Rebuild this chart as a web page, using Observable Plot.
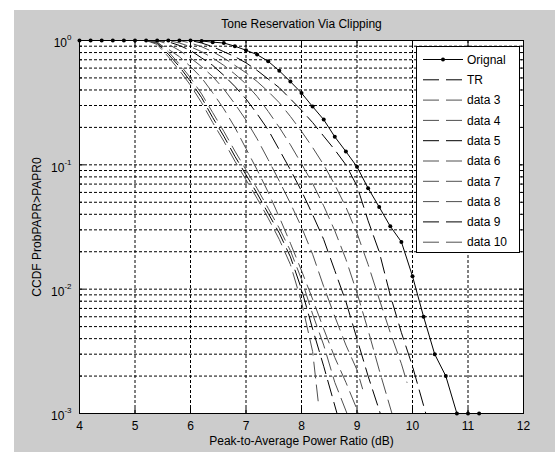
<!DOCTYPE html>
<html><head><meta charset="utf-8">
<script src="https://cdn.jsdelivr.net/npm/d3@7"></script>
<script src="https://cdn.jsdelivr.net/npm/@observablehq/plot@0.6"></script>
<style>
body{margin:0;background:#fff;width:555px;height:452px;overflow:hidden;font-family:"Liberation Sans",Arial,sans-serif;}
#fig{position:absolute;left:14px;top:10px;width:541px;height:442px;background:#cccccc;}
#fig svg.plot{position:absolute;left:0;top:0;}
#legend{position:absolute;left:402px;top:36px;width:104px;height:207px;background:#fff;border:1px solid #000;box-sizing:border-box;}
#legend svg{position:absolute;left:0;top:0;font-size:12px;font-family:"Liberation Sans",Arial,sans-serif;}
</style></head><body><div id="fig"></div>
<script>
// ---- text ----
const titleText = "Tone Reservation Via Clipping";
const xLabelText = "Peak-to-Average Power Ratio (dB)";
const yLabelText = "CCDF ProbPAPR>PAPR0";

// ---- ticks ----
const xTicks = [4, 5, 6, 7, 8, 9, 10, 11, 12];
const xGrid = [5, 6, 7, 8, 9, 10, 11];
const yDecades = [0.001, 0.01, 0.1, 1];
const yExps = ["-3", "-2", "-1", "0"];
const yMinor = [0.002, 0.003, 0.004, 0.005, 0.006, 0.007, 0.008, 0.009,
                0.02, 0.03, 0.04, 0.05, 0.06, 0.07, 0.08, 0.09,
                0.2, 0.3, 0.4, 0.5, 0.6, 0.7, 0.8, 0.9];
const yGrid = [0.002, 0.003, 0.004, 0.005, 0.006, 0.007, 0.008, 0.009, 0.01,
               0.02, 0.03, 0.04, 0.05, 0.06, 0.07, 0.08, 0.09, 0.1,
               0.2, 0.3, 0.4, 0.5, 0.6, 0.7, 0.8, 0.9];

// ---- series ----
const seriesNames = ["Orignal", "TR", "data 3", "data 4", "data 5", "data 6", "data 7", "data 8", "data 9", "data 10"];
const seriesColors = ["#000000", "#000000", "#505050", "#505050", "#000000", "#505050", "#505050", "#505050", "#000000", "#505050"];

const origX = [4.0, 4.2, 4.4, 4.6, 4.8, 5.0, 5.2, 5.4, 5.6, 5.8, 6.0, 6.2, 6.4, 6.6, 6.8, 7.0, 7.2, 7.4, 7.6, 7.8, 8.0, 8.2, 8.4, 8.6, 8.8, 9.0, 9.2, 9.4, 9.6, 9.8, 10.0, 10.2, 10.4, 10.6, 10.8, 11.0, 11.2];
const origP = [1, 1, 1, 1, 1, 1, 1, 1, 1, 1, 1, 0.99, 0.97, 0.955, 0.90, 0.835, 0.77, 0.68, 0.57, 0.467, 0.378, 0.294, 0.231, 0.168, 0.128, 0.0964, 0.0649, 0.0458, 0.032, 0.024, 0.0127, 0.006, 0.003, 0.002, 0.001, 0.001, 0.001];

const trX = [4, 6.0, 6.2, 6.4, 6.6, 6.8, 7.0, 7.2, 7.4, 7.6, 7.8, 8.0, 8.2, 8.4, 8.6, 8.8, 9.0, 9.2, 9.4, 9.6, 9.8, 10.0, 10.24];
const trP = [1, 1, 0.955, 0.891, 0.813, 0.741, 0.661, 0.575, 0.49, 0.417, 0.339, 0.275, 0.219, 0.17, 0.132, 0.1, 0.0676, 0.0355, 0.02, 0.00891, 0.00447, 0.0024, 0.001];

const d3X = [4, 5.8, 6.0, 6.2, 6.4, 6.6, 6.8, 7.0, 7.2, 7.4, 7.6, 7.8, 8.0, 8.2, 8.4, 8.6, 8.8, 9.0, 9.2, 9.4, 9.6, 9.8, 9.9];
const d3P = [1, 1, 0.955, 0.891, 0.813, 0.724, 0.631, 0.55, 0.468, 0.389, 0.316, 0.245, 0.186, 0.138, 0.1, 0.0692, 0.0457, 0.0282, 0.0158, 0.00832, 0.00447, 0.00251, 0.00178];

const d4X = [4, 5.6, 5.8, 6.0, 6.2, 6.4, 6.6, 6.8, 7.0, 7.2, 7.4, 7.6, 7.8, 8.0, 8.2, 8.4, 8.6, 8.8, 9.0, 9.2, 9.4, 9.63];
const d4P = [1, 1, 0.955, 0.891, 0.813, 0.724, 0.631, 0.537, 0.447, 0.355, 0.269, 0.2, 0.145, 0.102, 0.0708, 0.0468, 0.0295, 0.0174, 0.00933, 0.00468, 0.00224, 0.001];

const d5X = [4, 5.4, 5.6, 5.8, 6.0, 6.2, 6.4, 6.6, 6.8, 7.0, 7.2, 7.4, 7.6, 7.8, 8.0, 8.2, 8.4, 8.6, 8.8, 9.0, 9.2, 9.42];
const d5P = [1, 1, 0.977, 0.912, 0.832, 0.724, 0.631, 0.525, 0.427, 0.339, 0.257, 0.191, 0.132, 0.0912, 0.0617, 0.0398, 0.0251, 0.0141, 0.00794, 0.00398, 0.002, 0.001];

const d6X = [4, 5.4, 5.6, 5.8, 6.0, 6.2, 6.4, 6.6, 6.8, 7.0, 7.2, 7.4, 7.6, 7.8, 8.0, 8.2, 8.4, 8.6, 8.8, 9.0, 9.1];
const d6P = [1, 1, 0.933, 0.832, 0.724, 0.617, 0.513, 0.407, 0.309, 0.229, 0.162, 0.11, 0.0741, 0.049, 0.0316, 0.0191, 0.0105, 0.00603, 0.00355, 0.00224, 0.00158];

const d7X = [4, 5.2, 5.4, 5.6, 5.8, 6.0, 6.2, 6.4, 6.6, 6.8, 7.0, 7.2, 7.4, 7.6, 7.8, 8.0, 8.2, 8.4, 8.6, 8.8, 9.03];
const d7P = [1, 1, 0.955, 0.851, 0.741, 0.617, 0.501, 0.38, 0.282, 0.2, 0.135, 0.0912, 0.0603, 0.038, 0.0234, 0.0141, 0.00832, 0.00479, 0.00282, 0.00178, 0.001];

const d8X = [4, 5.2, 5.4, 5.6, 5.8, 6.0, 6.2, 6.4, 6.6, 6.8, 7.0, 7.2, 7.4, 7.6, 7.8, 8.0, 8.2, 8.4, 8.6, 8.82];
const d8P = [1, 1, 0.977, 0.813, 0.646, 0.501, 0.372, 0.263, 0.186, 0.129, 0.0912, 0.0646, 0.0447, 0.0309, 0.0204, 0.012, 0.0063, 0.00355, 0.00178, 0.001];

const d9X = [4, 5.2, 5.4, 5.6, 5.8, 6.0, 6.2, 6.4, 6.6, 6.8, 7.0, 7.2, 7.4, 7.6, 7.8, 8.0, 8.2, 8.4, 8.64];
const d9P = [1, 1, 0.955, 0.776, 0.617, 0.468, 0.347, 0.24, 0.17, 0.117, 0.0832, 0.0589, 0.0407, 0.0282, 0.0182, 0.01, 0.00479, 0.0024, 0.001];

const d10X = [4, 5.2, 5.4, 5.6, 5.8, 6.0, 6.2, 6.4, 6.6, 6.8, 7.0, 7.2, 7.4, 7.6, 7.8, 8.0, 8.2, 8.3];
const d10P = [1, 1, 0.93, 0.74, 0.575, 0.437, 0.316, 0.219, 0.155, 0.107, 0.0759, 0.0537, 0.0372, 0.0251, 0.0158, 0.0079, 0.00316, 0.00126];

const seriesX = [origX, trX, d3X, d4X, d5X, d6X, d7X, d8X, d9X, d10X];
const seriesP = [origP, trP, d3P, d4P, d5P, d6P, d7P, d8P, d9P, d10P];

// ---- build ----
const dashPattern = "16,7";
const gridDash = "3,2";
const tables = seriesX.map((xs, i) => xs.map((x, j) => ({x, p: seriesP[i][j]})));

const lineMarks = [];
for (let i = tables.length - 1; i >= 1; i--) {
  lineMarks.push(Plot.line(tables[i], {x: "x", y: "p", stroke: seriesColors[i], strokeWidth: 1, strokeDasharray: dashPattern}));
}
lineMarks.push(Plot.line(tables[0], {x: "x", y: "p", stroke: seriesColors[0], strokeWidth: 1}));
lineMarks.push(Plot.dot(tables[0], {x: "x", y: "p", r: 2, fill: "#000", stroke: null}));

const expOf = new Map(yDecades.map((v, i) => [v, yExps[i]]));

const chart = Plot.plot({
  width: 541,
  height: 442,
  marginLeft: 65,
  marginRight: 32,
  marginTop: 30,
  marginBottom: 39,
  style: {background: "transparent", fontFamily: "'Liberation Sans', Arial, sans-serif", fontSize: "12px", color: "#000"},
  x: {domain: [4, 12]},
  y: {type: "log", domain: [0.001, 1]},
  marks: [
    Plot.frame({fill: "#fff", stroke: null}),
    Plot.ruleX(xGrid, {stroke: "#000", strokeWidth: 1, strokeDasharray: gridDash}),
    Plot.ruleY(yGrid, {stroke: "#000", strokeWidth: 1, strokeDasharray: gridDash}),
    ...lineMarks,
    // labels
    Plot.axisX({anchor: "bottom", ticks: xTicks, tickSize: 0, tickPadding: 8, label: null, tickFormat: d => String(d)}),
    Plot.axisY({anchor: "left", ticks: yDecades, tickSize: 0, tickPadding: 8, label: null, tickFormat: d => "10^" + expOf.get(d)}),
    // inward ticks
    Plot.axisX({anchor: "bottom", ticks: xTicks, tickSize: 5, inset: 5, label: null, tickFormat: () => ""}),
    Plot.axisX({anchor: "top", ticks: xTicks, tickSize: 5, inset: 5, label: null, tickFormat: () => ""}),
    Plot.axisY({anchor: "left", ticks: yDecades, tickSize: 5, inset: 5, label: null, tickFormat: () => ""}),
    Plot.axisY({anchor: "right", ticks: yDecades, tickSize: 5, inset: 5, label: null, tickFormat: () => ""}),
    Plot.axisY({anchor: "left", ticks: yMinor, tickSize: 3, inset: 3, label: null, tickFormat: () => ""}),
    Plot.axisY({anchor: "right", ticks: yMinor, tickSize: 3, inset: 3, label: null, tickFormat: () => ""}),
    Plot.frame({stroke: "#000", strokeWidth: 1}),
    Plot.text([titleText], {frameAnchor: "top", dy: -21, fontSize: 12, fill: "#000"}),
    Plot.text([xLabelText], {frameAnchor: "bottom", dy: 31, fontSize: 12, fill: "#000"}),
    Plot.text([yLabelText], {frameAnchor: "left", dx: -42, rotate: -90, textAnchor: "middle", fontSize: 12, fill: "#000"})
  ]
});

// superscript exponents on y tick labels
const NS = "http://www.w3.org/2000/svg";
chart.querySelectorAll('g[aria-label="y-axis tick label"] text').forEach(t => {
  const s = t.textContent;
  if (!s.includes("^")) return;
  const [base, ex] = s.split("^");
  t.textContent = "";
  const a = document.createElementNS(NS, "tspan");
  a.setAttribute("dy", "3");
  a.textContent = base;
  const b = document.createElementNS(NS, "tspan");
  b.setAttribute("dy", "-7");
  b.setAttribute("font-size", "8");
  b.textContent = ex;
  t.appendChild(a); t.appendChild(b);
});

const fig = document.getElementById("fig");
fig.appendChild(chart);

// ---- legend ----
const leg = d3.select(fig).append("div").attr("id", "legend");
const lsvg = leg.append("svg").attr("width", 102).attr("height", 205);
seriesNames.forEach((name, i) => {
  const g = lsvg.append("g").attr("transform", `translate(0,${12.5 + i * 20.3})`);
  g.append("line").attr("x1", 6).attr("x2", 46).attr("y1", 0).attr("y2", 0)
    .attr("stroke", seriesColors[i]).attr("stroke-width", 1)
    .attr("stroke-dasharray", i === 0 ? null : dashPattern);
  if (i === 0) g.append("circle").attr("cx", 26).attr("cy", 0).attr("r", 2).attr("fill", "#000");
  g.append("text").attr("x", 50).attr("y", 0).attr("dy", "0.35em").attr("fill", "#000").text(name);
});
</script></body></html>
